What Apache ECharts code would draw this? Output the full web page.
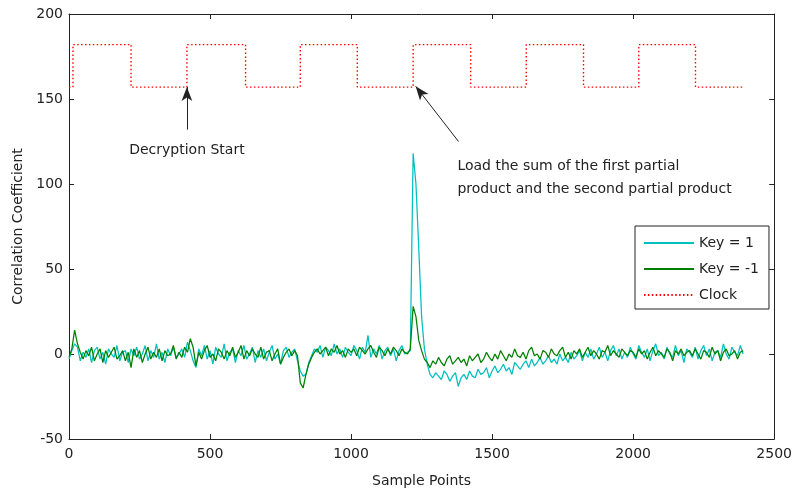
<!DOCTYPE html>
<html>
<head>
<meta charset="utf-8">
<script src="https://cdn.jsdelivr.net/npm/echarts@6/dist/echarts.min.js"></script>
<style>
html,body{margin:0;padding:0;background:#fff;}
#chart{width:795px;height:495px;}
</style>
</head>
<body>
<div id="chart"></div>
<script>
// sample step of the traces (samples)
var sampleStep = 10;
// Key = 1 (cyan), one value every 10 samples, 0..2390
var keyPos = [
 -3, 2, 6, 4, -4, 1, -2, 3, -5, 2, 4, -3, 1, -6, 3, 0, -2, 5, -4, 1,
 2, -5, 3, -1, 4, -3, 0, 5, -4, 2, -2, 6, -3, 1, -5, 3, -1, 4, -2, 0,
 3, -2, 7, 2, -4, -8, 3, -1, 5, -3, 2, -6, 4, 0, -2, 6, -4, 1, 3, -5,
 2, -1, 5, -3, 0, 4, -5, 2, -2, 3, -4, 1, 5, -3, 0, -6, 2, 4, -2, 1,
 3, -4, -10, -13, -12, -5, -1, 3, 1, 5, -2, 4, 2, -1, 6, 0, 3, -2, 4, 1,
 -1, 5, 2, -3, 4, 1, 11, -2, 3, 0, 5, -3, 2, 4, -1, 3, -4, 2, 5, 0,
 1, 2, 118, 100, 62, 22, 3, -6, -12, -14, -11, -13, -15, -10, -12, -16, -13, -11, -19, -14,
 -12, -15, -10, -13, -14, -9, -12, -11, -8, -14, -10, -7, -11, -9, -6, -10, -8, -12, -5, -7,
 -9, -6, -4, -8, -3, -7, -5, -2, -6, -4, -1, -5, -3, -6, 0, -4, -2, -5, 1, -3,
 -1, 2, -4, 1, -2, 3, -3, 0, 4, -2, 1, -4, 2, 5, -1, 3, -3, 1, -2, 4,
 0, -3, 5, 1, -2, 3, -4, 2, 6, -1, 1, -3, 4, 0, -2, 5, -1, 2, -5, 3,
 1, -2, 4, -3, 2, 5, -1, 3, -4, 1, 2, -2, 6, 0, -3, 4, 1, -1, 5, 0
];
// Key = -1 (green)
var keyNeg = [
 -2, 3, 14, 6, 1, -3, 2, -1, 4, -4, 0, 3, -5, 2, -2, 1, 4, -3, -1, 2,
 -4, 1, -8, 3, -2, 2, -5, 0, 4, -3, 1, -2, 3, -4, 2, -1, 0, 5, -3, 1,
 -2, 4, 1, 9, 4, -7, 1, -3, 2, 5, -2, 0, -4, 3, 1, -3, 2, -1, 4, -2,
 1, 5, -3, 2, -1, 3, 0, -2, 4, -3, 1, 2, -4, 0, 3, -6, -2, 1, 3, -1,
 2, -1, -17, -20, -12, -6, -2, 1, 3, 0, 2, 4, -1, 3, 1, 5, 0, 2, -2, 3,
 1, 3, -1, 4, 2, 0, 3, 5, 1, -2, 4, 2, -1, 3, 0, 4, 2, -1, 3, 1,
 0, 3, 28, 22, 8, 2, -3, -5, -8, -4, -6, -2, -5, -7, -3, -1, -6, -4, -2, -5,
 -3, -7, -1, -4, -2, 0, -5, -3, 1, -2, -4, 0, -3, 2, -1, -4, 0, -2, 3, -1,
 -2, 1, -3, 2, 4, -1, 0, -3, 2, 1, -2, 3, 0, -1, 2, 4, -2, 1, -3, 2,
 0, 3, -2, 1, 4, -1, 2, 0, -3, 2, 1, 5, -1, 2, 0, -2, 3, 1, -1, 2,
 1, -2, 3, 0, 2, -3, 1, 4, -1, 2, 0, -2, 3, 1, -4, 2, 0, 3, -1, 1,
 2, -1, 3, 0, -3, 2, 1, -2, 4, 0, 2, -4, 1, 3, -1, 0, 2, -3, 1, 2
];
// Clock edges (sample positions) and levels
var clockEdges = [0, 14, 220, 418, 626, 820, 1022, 1220, 1424, 1621, 1824, 2020, 2221, 2394];
var clockLevels = [157, 182, 157, 182, 157, 182, 157, 182, 157, 182, 157, 182, 157, 157];
var xTicks = [0, 500, 1000, 1500, 2000, 2500];
var yTicks = [-50, 0, 50, 100, 150, 200];
var seriesNames = ['Key = 1', 'Key = -1', 'Clock'];
var annot1 = {text: 'Decryption Start', from: [418, 132], to: [418, 157], textAt: [418, 120]};
var annot2 = {text: 'Load the sum of the first partial\nproduct and the second partial product', from: [1381, 125], to: [1229, 157.5], textAt: [1377, 117]};

var FONT = 'DejaVu Sans';
var posData = keyPos.map(function (v, i) { return [i * sampleStep, v]; });
var negData = keyNeg.map(function (v, i) { return [i * sampleStep, v]; });
var clockData = clockEdges.map(function (x, i) { return [x, clockLevels[i]]; });

var chart = echarts.init(document.getElementById('chart'), null, {renderer: 'canvas'});
var axisLine = {show: true, onZero: false, lineStyle: {color: '#222', width: 1}};
var tickStyle = {show: true, inside: true, length: 5, lineStyle: {color: '#222', width: 1}};
var labelStyle = {color: '#222', fontFamily: FONT, fontSize: 14, formatter: function (v) { return String(v); }};

var option = {
  animation: false,
  backgroundColor: '#fff',
  grid: {left: 69, right: 20, top: 14, bottom: 56, containLabel: false},
  xAxis: [{
    type: 'value', min: xTicks[0], max: xTicks[xTicks.length - 1], interval: 500,
    axisLine: axisLine, axisTick: tickStyle, splitLine: {show: false},
    axisLabel: Object.assign({margin: 8}, labelStyle),
    name: 'Sample Points', nameLocation: 'middle', nameGap: 35,
    nameTextStyle: {color: '#222', fontFamily: FONT, fontSize: 14}
  }, {
    type: 'value', position: 'top', min: xTicks[0], max: xTicks[xTicks.length - 1], interval: 500,
    axisLine: axisLine, axisTick: tickStyle, splitLine: {show: false}, axisLabel: {show: false}
  }],
  yAxis: [{
    type: 'value', min: yTicks[0], max: yTicks[yTicks.length - 1], interval: 50,
    axisLine: axisLine, axisTick: tickStyle, splitLine: {show: false},
    axisLabel: Object.assign({margin: 6}, labelStyle),
    name: 'Correlation Coefficient', nameLocation: 'middle', nameGap: 43, nameRotate: 90,
    nameTextStyle: {color: '#222', fontFamily: FONT, fontSize: 14}
  }, {
    type: 'value', position: 'right', min: yTicks[0], max: yTicks[yTicks.length - 1], interval: 50,
    axisLine: axisLine, axisTick: tickStyle, splitLine: {show: false}, axisLabel: {show: false}
  }],
  legend: {
    show: true,
    orient: 'vertical', left: 635, top: 226,
    data: seriesNames,
    itemWidth: 50, itemHeight: 14, itemGap: 12,
    padding: [10, 10, 7, 8],
    backgroundColor: '#fff', borderColor: '#222', borderWidth: 1, borderRadius: 0,
    itemStyle: {opacity: 0},
    textStyle: {color: '#222', fontFamily: FONT, fontSize: 14}
  },
  series: [{
    name: seriesNames[0], type: 'line', data: posData, showSymbol: false, symbol: 'none',
    lineStyle: {color: '#00bfbf', width: 1.25}, itemStyle: {color: '#00bfbf'}
  }, {
    name: seriesNames[1], type: 'line', data: negData, showSymbol: false, symbol: 'none',
    lineStyle: {color: '#008000', width: 1.25}, itemStyle: {color: '#008000'}
  }, {
    name: seriesNames[2], type: 'line', data: clockData, step: 'end', showSymbol: false, symbol: 'none',
    lineStyle: {color: '#ff0000', width: 1.4, type: [1.5, 2.4]}, itemStyle: {color: '#ff0000'},
    markLine: {
      silent: true, animation: false,
      symbol: ['none', 'arrow'], symbolSize: [8, 14],
      lineStyle: {color: '#222', width: 1, type: 'solid'},
      label: {show: false},
      data: [
        [{coord: annot1.from}, {coord: annot1.to}],
        [{coord: annot2.from}, {coord: annot2.to}]
      ]
    }
  }]
};
chart.setOption(option);

var p1 = chart.convertToPixel({xAxisIndex: 0, yAxisIndex: 0}, annot1.textAt);
var p2 = chart.convertToPixel({xAxisIndex: 0, yAxisIndex: 0}, annot2.textAt);
chart.setOption({
  graphic: [{
    type: 'text', x: p1[0], y: p1[1],
    style: {text: annot1.text, fill: '#222', font: '14px "DejaVu Sans"', textAlign: 'center', textVerticalAlign: 'middle'}
  }, {
    type: 'text', x: p2[0], y: p2[1],
    style: {text: annot2.text, fill: '#222', font: '14px "DejaVu Sans"', textAlign: 'left', textVerticalAlign: 'top', lineHeight: 23}
  }]
});
</script>
</body>
</html>
